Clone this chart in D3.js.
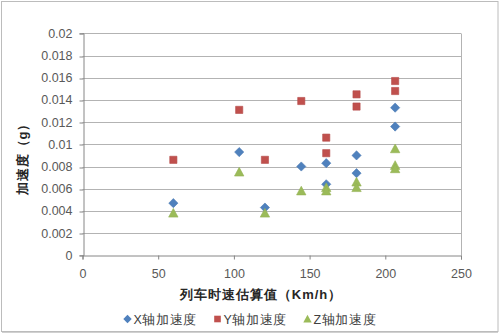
<!DOCTYPE html>
<html>
<head>
<meta charset="utf-8">
<script src="https://cdn.jsdelivr.net/npm/d3@7"></script>
<style>
  html, body { margin: 0; padding: 0; background: #fff; }
  svg { display: block; }
  text { font-family: "Liberation Sans", Arial, sans-serif; }
</style>
</head>
<body>
<svg id="chart" width="500" height="334"></svg>
<script>
// Train speed estimate (km/h) versus measured acceleration (g) on three axes
const speedX = [60, 103.5, 120.5, 144.5, 161, 161, 181, 181, 206.5, 206.5];
const accelX = [0.0047, 0.0093, 0.0043, 0.0080, 0.0083, 0.0064, 0.0090, 0.0074, 0.0133, 0.0116];

const speedY = [60, 103.5, 120.5, 144.5, 161, 161, 181, 181, 206.5, 206.5];
const accelY = [0.0086, 0.0131, 0.0086, 0.0139, 0.0106, 0.0092, 0.0145, 0.0134, 0.0157, 0.0148];

const speedZ = [60, 103.5, 120.5, 144.5, 161, 161, 181, 181, 206.5, 206.5, 206.5];
const accelZ = [0.0038, 0.0075, 0.0038, 0.0058, 0.0061, 0.0058, 0.0066, 0.0061, 0.0096, 0.0081, 0.0078];

const seriesNames = ["X轴加速度", "Y轴加速度", "Z轴加速度"];
const xTicks = [0, 50, 100, 150, 200, 250];
const yTicks = [0, 0.002, 0.004, 0.006, 0.008, 0.01, 0.012, 0.014, 0.016, 0.018, 0.02];
const xTitle = "列车时速估算值（Km/h）";
const yTitle = "加速度（g）";

const colors = ["#4f81bd", "#c0504d", "#9bbb59"];

// marker outlines, each centred on its bounding box
const markerDiamond = r => `M0,${-r}L${r},0L0,${r}L${-r},0Z`;
const markerSquare = r => `M${-r},${-r}H${r}V${r}H${-r}Z`;
const markerTriangle = r => `M0,${-r}L${r},${r * 0.85}L${-r},${r * 0.85}Z`;
const markers = [markerDiamond, markerSquare, markerTriangle];
const markerR = [4.6, 3.6, 4.7];

const svg = d3.select("#chart");
const plot = { left: 82.5, right: 461, top: 33.3, bottom: 255.3 };

// outer chart frame
svg.append("rect")
  .attr("x", 1.5).attr("y", 1.5).attr("width", 496.5).attr("height", 330)
  .attr("fill", "#fff").attr("stroke", "#bcbcbc").attr("stroke-width", 1);
svg.append("line")
  .attr("x1", 2).attr("x2", 498).attr("y1", 332.5).attr("y2", 332.5)
  .attr("stroke", "#d0d0d0").attr("stroke-width", 1);

const x = d3.scaleLinear().domain([0, 250]).range([plot.left, plot.right]);
const y = d3.scaleLinear().domain([0, 0.02]).range([plot.bottom, plot.top]);

// horizontal gridlines
svg.append("g").selectAll("line")
  .data(yTicks.filter(t => t > 0))
  .join("line")
  .attr("x1", plot.left).attr("x2", plot.right)
  .attr("y1", d => Math.round(y(d)) + 0.5).attr("y2", d => Math.round(y(d)) + 0.5)
  .attr("stroke", "#b3b3b3").attr("stroke-width", 1);

// right edge of plot area
svg.append("line")
  .attr("x1", Math.round(plot.right) + 0.5).attr("x2", Math.round(plot.right) + 0.5)
  .attr("y1", Math.round(plot.top) + 0.5).attr("y2", Math.round(plot.bottom) + 0.5)
  .attr("stroke", "#b3b3b3");

// y axis
const yAxis = d3.axisLeft(y).tickValues(yTicks).tickSize(4).tickPadding(7)
  .tickFormat(d => d === 0 ? "0" : String(+d.toFixed(3)));
const gy = svg.append("g")
  .attr("transform", `translate(${Math.round(plot.left) + 0.5},0)`)
  .call(yAxis);
gy.select(".domain").attr("stroke", "#868686");
gy.selectAll(".tick line").attr("stroke", "#868686")
  .attr("transform", d => `translate(0,${Math.round(y(d)) + 0.5 - y(d)})`);
gy.selectAll(".tick text").attr("fill", "#595959").style("font-size", "12.5px");

// x axis
const xAxis = d3.axisBottom(x).tickValues(xTicks).tickSize(4).tickPadding(10)
  .tickFormat(d3.format("d"));
const gx = svg.append("g")
  .attr("transform", `translate(0,${Math.round(plot.bottom) + 0.5})`)
  .call(xAxis);
gx.select(".domain").attr("stroke", "#868686");
gx.selectAll(".tick line").attr("stroke", "#868686");
gx.selectAll(".tick text").attr("fill", "#595959").style("font-size", "12.5px");

// axis titles
svg.append("text")
  .attr("x", 261).attr("y", 299)
  .attr("text-anchor", "middle")
  .attr("fill", "#262626")
  .style("font-size", "13px").style("font-weight", "bold")
  .style("letter-spacing", "1px")
  .text(xTitle);

svg.append("text")
  .attr("transform", "translate(27,156) rotate(-90)")
  .attr("text-anchor", "middle")
  .attr("fill", "#262626")
  .style("font-size", "13px").style("font-weight", "bold")
  .style("letter-spacing", "1px")
  .text(yTitle);

// markers
const allSeries = [
  { xs: speedX, ys: accelX },
  { xs: speedY, ys: accelY },
  { xs: speedZ, ys: accelZ }
];
allSeries.forEach((s, i) => {
  const pts = s.xs.map((v, j) => [v, s.ys[j]]);
  svg.append("g").selectAll("path")
    .data(pts)
    .join("path")
    .attr("d", markers[i](markerR[i]))
    .attr("transform", d => `translate(${x(d[0])},${y(d[1])})`)
    .attr("fill", colors[i])
    .attr("stroke", d3.color(colors[i]).darker(0.15))
    .attr("stroke-width", 0.6);
});

// legend
const legendPos = [127.5, 217.5, 307.5];
const legend = svg.append("g");
seriesNames.forEach((name, i) => {
  legend.append("path")
    .attr("d", markers[i](i === 1 ? 3.3 : 4.2))
    .attr("transform", `translate(${legendPos[i]},319)`)
    .attr("fill", colors[i]);
  legend.append("text")
    .attr("x", legendPos[i] + 6).attr("y", 323.5)
    .attr("fill", "#404040")
    .style("font-size", "12.5px")
    .style("letter-spacing", "0.6px")
    .text(name);
});
</script>
</body>
</html>
